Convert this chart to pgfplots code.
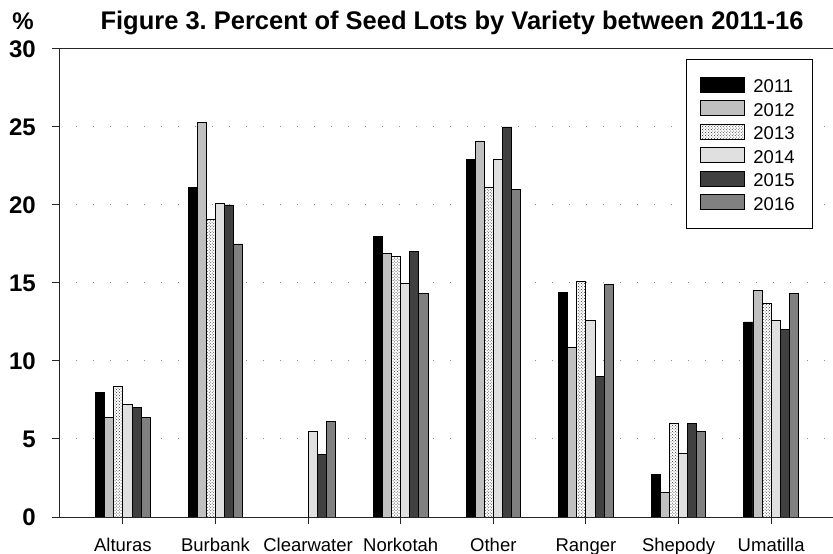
\documentclass[border=0pt]{standalone}
\usepackage{pgfplots}
\pgfplotsset{compat=1.18}
\usetikzlibrary{patterns}
\usepackage{fontspec}
\setmainfont{Liberation Sans}
\definecolor{c2012}{HTML}{C0C0C0}
\definecolor{c2014}{HTML}{E0E0E0}
\definecolor{c2015}{HTML}{404040}
\definecolor{c2016}{HTML}{808080}
\begin{document}
\begin{tikzpicture}
\path[use as bounding box] (0,0) rectangle (833bp,554bp);
\begin{axis}[
  at={(59bp,37bp)}, anchor=south west,
  scale only axis, width=774bp, height=468bp,
  xmin=-0.69, xmax=7.668, ymin=0, ymax=30,
  axis x line*=box, axis y line*=left,
  axis line style={line width=1bp, black!85},
  xtick={0,...,7}, xtick pos=bottom,
  xticklabels={Alturas,Burbank,Clearwater,Norkotah,Other,Ranger,Shepody,Umatilla},
  ytick={0,5,...,30}, ytick pos=left,
  tick align=outside, major tick length=7bp,
  tick style={line width=1bp, black!85},
  /pgf/number format/assume math mode=true,
  yticklabel style={font=\bfseries\fontsize{24bp}{28bp}\selectfont, anchor=east, inner sep=0pt, xshift=-16bp},
  xticklabel style={font=\fontsize{18.5bp}{22bp}\selectfont, anchor=base, inner sep=0pt, yshift=-27bp},
  ymajorgrids,
  grid style={black!45, line width=1bp, dash pattern=on 1.2bp off 15.8bp},
  ybar=0pt, bar width=9.1bp,
  every axis plot/.append style={draw=black, line width=0.9bp},
  legend image code/.code={\draw[#1] (0bp,-7.2bp) rectangle (44bp,7.8bp);},
  legend style={at={(0.8101,0.9786)}, anchor=north west, draw=black, line width=1bp,
    inner xsep=13bp, inner ysep=17.5bp, row sep=7.2bp,
    /tikz/every odd column/.append style={column sep=9bp},
    nodes={inner sep=0pt, text height=15.5bp, text depth=0.5bp, text width=46bp, align=left,
      font=\fontsize{18.5bp}{22bp}\selectfont}},
]
\addplot[fill=black] coordinates {(0,8.0) (1,21.1) (2,0) (3,18.0) (4,22.9) (5,14.4) (6,2.7) (7,12.5)};
\addplot[fill=c2012] coordinates {(0,6.4) (1,25.3) (2,0) (3,16.9) (4,24.1) (5,10.9) (6,1.6) (7,14.5)};
\addplot[fill=white, postaction={pattern=crosshatch dots, pattern color=black!80}] coordinates {(0,8.4) (1,19.1) (2,0) (3,16.7) (4,21.1) (5,15.1) (6,6.0) (7,13.7)};
\addplot[fill=c2014] coordinates {(0,7.2) (1,20.1) (2,5.5) (3,15.0) (4,22.9) (5,12.6) (6,4.1) (7,12.6)};
\addplot[fill=c2015] coordinates {(0,7.0) (1,20.0) (2,4.0) (3,17.0) (4,25.0) (5,9.0) (6,6.0) (7,12.0)};
\addplot[fill=c2016] coordinates {(0,6.4) (1,17.5) (2,6.1) (3,14.3) (4,21.0) (5,14.9) (6,5.5) (7,14.3)};
\legend{2011,2012,2013,2014,2015,2016}
\end{axis}
\node[anchor=base, font=\bfseries\fontsize{25.5bp}{30bp}\selectfont, inner sep=0pt] at (452bp,524bp) {\frenchspacing Figure 3. Percent of Seed Lots by Variety between 2011-16};
\node[anchor=base, font=\bfseries\fontsize{24bp}{28bp}\selectfont, inner sep=0pt] at (23bp,524bp) {\%};
\end{tikzpicture}
\end{document}
